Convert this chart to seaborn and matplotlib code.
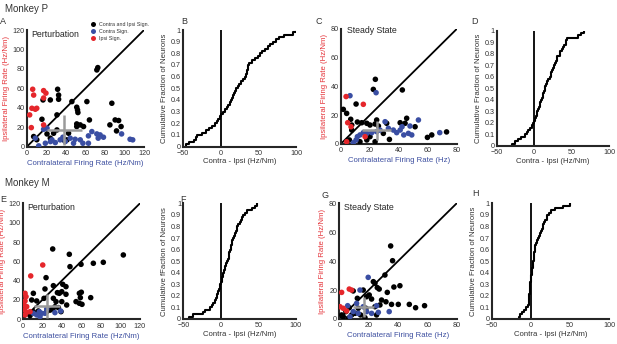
import matplotlib
matplotlib.use("Agg")
import matplotlib.pyplot as plt
import numpy as np
import pandas as pd
import seaborn as sns

# ---- scatter data (contra, ipsi firing rates) ----
# Monkey P, perturbation (panel A)
a_both_x = [71.6, 72.6, 31.4, 32.4, 32.4, 16.4, 23.9, 46, 51, 51.8, 52.2, 61.4, 87, 15.3, 30.7,
            51, 54.6, 51, 64, 85, 90.4, 94, 91.8, 96.5, 6.8, 10, 23.9, 27.3, 37.5, 41, 42.6, 58,
            30.7, 20.5]
a_both_y = [78.9, 81.3, 59, 53, 48.7, 48, 48, 46.3, 40.5, 37.7, 35, 46.3, 44.6, 28.1, 32.6,
            23.3, 22.3, 20.6, 27.4, 22.3, 27.4, 26.8, 16.1, 20.6, 10.3, 7, 8.6, 13.7, 6.9, 6.9,
            13.7, 20.6, 17.1, 13]
a_contra_x = [17, 20.5, 8.5, 12, 18.8, 24, 25.6, 29, 34, 39.2, 44.3, 49.4, 54.6, 57.3, 63, 66.5,
              71.6, 75, 78.4, 73, 63, 97, 105.7, 108.4, 47.7, 36.8]
a_contra_y = [17.8, 18.9, 8.6, 0.7, 3.4, 5.1, 6.9, 4.1, 6.9, 5.1, 8.6, 7.5, 6.9, 3.4, 11, 15.4,
              13, 12, 9.6, 8.6, 3.4, 13, 7.5, 6.9, 3.4, 9.6]
a_ipsi_x = [5.8, 6.8, 17, 19.4, 17, 5, 8.5, 10, 2.7, 4.4, 17]
a_ipsi_y = [59, 53, 57.6, 55, 50, 39.4, 38.4, 39.4, 32.6, 19.5, 22.3]

# Monkey P, steady state (panel C)
c_both_x = [23.9, 22.5, 42.5, 1.8, 4.1, 10.6, 6.9, 7.6, 7.6, 11.5, 14.5, 18, 20.2, 23.7, 24.8,
            26, 31.7, 41, 45.5, 44.4, 51.3, 59.8, 62.8, 73, 6, 13.3, 18, 20.2, 23.7, 33.6, 29.4]
c_both_y = [45, 38, 37.6, 24.1, 21.3, 27.8, 17.2, 13.2, 9.7, 15.3, 14.8, 14.4, 13.2, 13.9, 16.7,
            12.5, 14.4, 14.8, 17.9, 14.4, 12, 4.6, 6.3, 8.4, 2.8, 1.6, 2.8, 5.1, 1.6, 3.2, 7.4]
c_contra_x = [6.4, 24.4, 11.5, 13.3, 15.6, 18, 21.4, 24.8, 27.1, 30.6, 32.9, 36.3, 38.6, 41, 42.3,
              43.5, 46.7, 49, 47.8, 53.6, 68.3, 10.6, 8.7]
c_contra_y = [33.6, 35.7, 5.1, 6.3, 7.9, 7.4, 7.9, 8.6, 9.7, 15.5, 10.9, 9.7, 7.9, 9.7, 12, 6.3,
              7.4, 6.3, 12.5, 16.7, 7.9, 2.8, 0.9]
c_ipsi_x = [3.7, 15.6, 4.8, 7.1, 16.8, 4.1]
c_ipsi_y = [33, 27.6, 14.8, 12, 5.1, 1.6]

# Monkey M, perturbation (panel E)
e_both_x = [30.7, 47.7, 48.4, 59.7, 72.3, 82.5, 103, 58, 60, 59, 60.7, 58, 54.6, 69.6, 23.9, 31.4,
            41, 44.3, 40, 37.5, 35.5, 44.3, 10.9, 22.8, 9.2, 14.3, 21.8, 31.4, 34.1, 40, 45,
            36.5, 30.7, 24.6, 16, 10.9, 7.5, 39.2, 28, 33]
e_both_y = [72.8, 67.3, 54.5, 56.9, 58, 59, 66.6, 26.9, 28, 22.4, 15.5, 16.6, 18.3, 22.4, 43.1,
            34.8, 36.2, 33.8, 28.6, 26.9, 27.6, 25.9, 26.9, 31.4, 20, 19, 21.7, 21.7, 18.3, 18.3,
            14.8, 12.1, 10.7, 7.9, 8.6, 7.9, 3.8, 7.9, 9.5, 13]
e_contra_x = [10.9, 14.3, 17.7, 19.4, 22.8, 17, 33, 38.9, 24.6]
e_contra_y = [6.2, 4.5, 2.8, 6.2, 6.2, 7.9, 6.9, 8.6, 10.7]
e_ipsi_x = [20.5, 8.2, 2.4, 3.4, 2.4, 1.4, 4.1, 1.7, 4.1, 2.4, 7.5]
e_ipsi_y = [56.2, 44.9, 26.9, 23.5, 19, 14.8, 13.1, 9.7, 7.2, 4.5, 7.9]

# Monkey M, steady state (panel G)
g_both_x = [35, 36.3, 31.1, 23.2, 24.3, 25.9, 27.2, 37.2, 41.3, 32.7, 16.3, 9.5, 12.3, 18.6,
            20.4, 22, 28.8, 31.8, 35.6, 40.2, 47.7, 52, 58.1, 27.7, 24.3, 6.8, 4.5, 2.7, 8.4,
            12.9, 10.7, 18.2, 14.5, 25.4, 17.5, 6.1, 1.6]
g_both_y = [50.5, 40.3, 30.4, 25.8, 24.7, 21.7, 20.7, 22.1, 23, 18.4, 20, 19.4, 14.3, 15.4,
            16.6, 13.8, 13.1, 11.9, 10.1, 10.1, 10.1, 7.8, 9.2, 9.7, 8.5, 7.8, 5.1, 1.6, 2.8,
            7.4, 3.9, 7.4, 2.8, 2.8, 0.9, 0.5, 2.8]
g_contra_x = [19.7, 14.1, 5.7, 9.5, 12.9, 18.6, 22, 26.6, 34, 16.3, 11.8, 7.3, 25.4]
g_contra_y = [28.8, 20, 9.2, 5.1, 3.9, 5.1, 3.9, 4.6, 5.1, 8.5, 10.8, 1.6, 9.2]
g_ipsi_x = [1.6, 6.8, 8.4, 0.5, 2.7, 5]
g_ipsi_y = [18.4, 20.7, 20, 8.5, 7.4, 5.5]

# population mean +- spread (grey crosses)
cross_x = {"A": 38, "C": 25, "E": 24.6, "G": 16.5}
cross_y = {"A": 17, "C": 9.5, "E": 13.5, "G": 8.5}
cross_xerr = {"A": 18, "C": 10, "E": 13.5, "G": 7}
cross_yerr = {"A": 15, "C": 6.5, "E": 12.5, "G": 7}

# contra - ipsi differences (sorted)
b_diff = [-46, -42, -36, -33, -31, -25, -20, -16, -12, -8, -5, -3, -1, 1, 3, 6, 8, 10, 12, 14,
          15, 16, 18, 19, 21, 23, 25, 27, 30, 32, 34, 35, 35.5, 36, 36.5, 38, 41, 45, 49, 52,
          55, 59, 63, 66, 69, 73, 77, 84, 96, 101]
d_diff = [-29, -26, -21, -17, -12, -10, -8, -5, -3, -1, 0.5, 1.5, 2.5, 3.5, 4.5, 5.5, 6.5, 7.5,
          8.5, 9.5, 10.5, 11.5, 12.5, 13, 14, 15, 16, 17, 19, 21, 22, 23, 24, 25, 27, 28, 29,
          30, 31, 34, 35, 37, 39, 40, 42, 43, 44, 58, 62, 66]
f_diff = [-42, -37, -24, -21, -15, -12, -10, -8, -6.5, -5.5, -4.5, -3.5, -2.5, -1.5, -0.5, 0.5,
          1, 2, 3, 3.5, 4.5, 5, 6, 7, 8.5, 9.5, 10.5, 11, 11.5, 12.5, 13, 14, 14.5, 15, 16, 17,
          18.5, 20, 21, 22, 23.5, 25, 26.5, 28, 29.5, 32, 35, 41, 45, 48]
h_diff = [-16, -14, -12, -9, -6, -3.5, -3, -2.7, -2.5, -2.2, -2, -1.8, -1.5, -1.2, -1, -0.7,
          -0.3, 0, 0.4, 0.8, 1.2, 1.8, 2.3, 2.8, 3.2, 3.5, 3.8, 4, 4.3, 4.6, 5, 5.5, 6.5, 7.5,
          8.5, 10, 11.5, 13, 14, 15, 16, 17, 18.5, 20, 21, 23, 26, 31, 41, 50]

groups = ["Contra and Ipsi Sign.", "Contra Sign.", "Ipsi Sign."]
palette = {"Contra and Ipsi Sign.": "black", "Contra Sign.": "#3a4ea3", "Ipsi Sign.": "#e5262b"}
RED = "#e5343a"
BLUE = "#3d4fa0"
TXT = "#333333"


def scatter_frame(both_x, both_y, contra_x, contra_y, ipsi_x, ipsi_y):
    parts = []
    for g, xs, ys in zip(groups, [both_x, contra_x, ipsi_x], [both_y, contra_y, ipsi_y]):
        parts.append(pd.DataFrame({"contra": xs, "ipsi": ys, "group": g}))
    return pd.concat(parts, ignore_index=True)


def style_axes(ax):
    sns.despine(ax=ax)
    for s in ["left", "bottom"]:
        ax.spines[s].set_linewidth(1.5)
    ax.tick_params(direction="in", length=2.5, width=1, labelsize=5.2,
                   labelcolor=TXT, pad=1.5)
    ax.tick_params(axis="x", pad=2.5)


def scatter_panel(ax, df, key, lim, title, xlabel, legend=False):
    sns.scatterplot(data=df, x="contra", y="ipsi", hue="group", hue_order=groups,
                    palette=palette, s=16, edgecolor="none", ax=ax, legend=legend,
                    zorder=3)
    ax.axline((0, 0), slope=1, color="black", lw=1.3, zorder=2)
    ax.errorbar(cross_x[key], cross_y[key], xerr=cross_xerr[key], yerr=cross_yerr[key],
                fmt="none", ecolor="#9a9a9a", elinewidth=1.8, zorder=4)
    ax.set_xlim(0, lim)
    ax.set_ylim(0, lim)
    step = 20
    ax.set_xticks(np.arange(0, lim + 1, step))
    ax.set_yticks(np.arange(0, lim + 1, step))
    ax.set_xlabel(xlabel, color=BLUE, fontsize=5.6, labelpad=2)
    ax.set_ylabel("Ipsilateral Firing Rate (Hz/Nm)", color=RED, fontsize=5.6, labelpad=2)
    ax.text(0.04, 1.0, title, transform=ax.transAxes, fontsize=6.3, va="top", ha="left")
    style_axes(ax)
    if legend:
        leg = ax.legend(loc="upper left", bbox_to_anchor=(0.5, 1.09), frameon=False,
                        fontsize=3.8, handletextpad=0.0, labelspacing=0.35,
                        borderpad=0, markerscale=0.9)
        for t in leg.get_texts():
            t.set_color(TXT)


def cdf_panel(ax, diffs, ylabel="Cumulative Fraction of Neurons"):
    sns.ecdfplot(x=diffs, ax=ax, color="black", lw=1.5)
    ax.axvline(0, color="black", lw=1.3)
    ax.set_xlim(-50, 100)
    ax.set_ylim(0, 1)
    ax.set_xticks([-50, 0, 50, 100])
    ax.set_yticks(np.round(np.arange(0, 1.01, 0.1), 1))
    ax.set_yticklabels(["0"] + [f"{v:.1f}" for v in np.arange(0.1, 0.95, 0.1)] + ["1"])
    ax.set_xlabel("Contra - Ipsi (Hz/Nm)", color=TXT, fontsize=5.6, labelpad=1)
    ax.set_ylabel(ylabel, color=TXT, fontsize=5.6, labelpad=2)
    style_axes(ax)


sns.set_theme(style="white")
plt.rcParams["font.family"] = ["Liberation Sans", "DejaVu Sans"]

fig = plt.figure(figsize=(6.17, 3.44), dpi=100)

ax_a = fig.add_axes([0.0438, 0.574, 0.1896, 0.3387])
ax_b = fig.add_axes([0.2966, 0.574, 0.1831, 0.3387])
ax_c = fig.add_axes([0.5522, 0.5814, 0.188, 0.3343])
ax_d = fig.add_axes([0.805, 0.5756, 0.182, 0.335])
ax_e = fig.add_axes([0.0368, 0.0718, 0.190, 0.337])
ax_f = fig.add_axes([0.2971, 0.0727, 0.1822, 0.3363])
ax_g = fig.add_axes([0.5499, 0.0727, 0.1903, 0.3363])
ax_h = fig.add_axes([0.7974, 0.0727, 0.1896, 0.3363])

scatter_panel(ax_a, scatter_frame(a_both_x, a_both_y, a_contra_x, a_contra_y, a_ipsi_x, a_ipsi_y),
              "A", 120, "Perturbation", "Contralateral Firing Rate (Hz/Nm)", legend=True)
scatter_panel(ax_c, scatter_frame(c_both_x, c_both_y, c_contra_x, c_contra_y, c_ipsi_x, c_ipsi_y),
              "C", 80, "Steady State", "Contralateral Firing Rate (Hz)")
scatter_panel(ax_e, scatter_frame(e_both_x, e_both_y, e_contra_x, e_contra_y, e_ipsi_x, e_ipsi_y),
              "E", 120, "Perturbation", "Contralateral Firing Rate (Hz/Nm)")
scatter_panel(ax_g, scatter_frame(g_both_x, g_both_y, g_contra_x, g_contra_y, g_ipsi_x, g_ipsi_y),
              "G", 80, "Steady State", "Contralateral Firing Rate (Hz)")
ax_c.texts[0].set_position((0.05, 1.03))

cdf_panel(ax_b, b_diff)
cdf_panel(ax_d, d_diff)
cdf_panel(ax_f, f_diff, ylabel="Cumulative fFaction of Neurons")
cdf_panel(ax_h, h_diff)

# monkey headings and panel letters (figure pixel positions / 617 x 344)
fig.text(5 / 617, 1 - 9 / 344, "Monkey P", fontsize=7, color=TXT, va="center")
fig.text(5 / 617, 1 - 183 / 344, "Monkey M", fontsize=7, color=TXT, va="center")
letters = {"A": (0, 21), "B": (181, 21), "C": (315, 21), "D": (471, 21),
           "E": (0, 200), "F": (180, 199), "G": (321, 195), "H": (472, 193)}
for lab, (px, py) in letters.items():
    fig.text(px / 617, 1 - py / 344, lab, fontsize=6.5, color=TXT, va="center", ha="left")

fig.savefig("out.png", dpi=100)
